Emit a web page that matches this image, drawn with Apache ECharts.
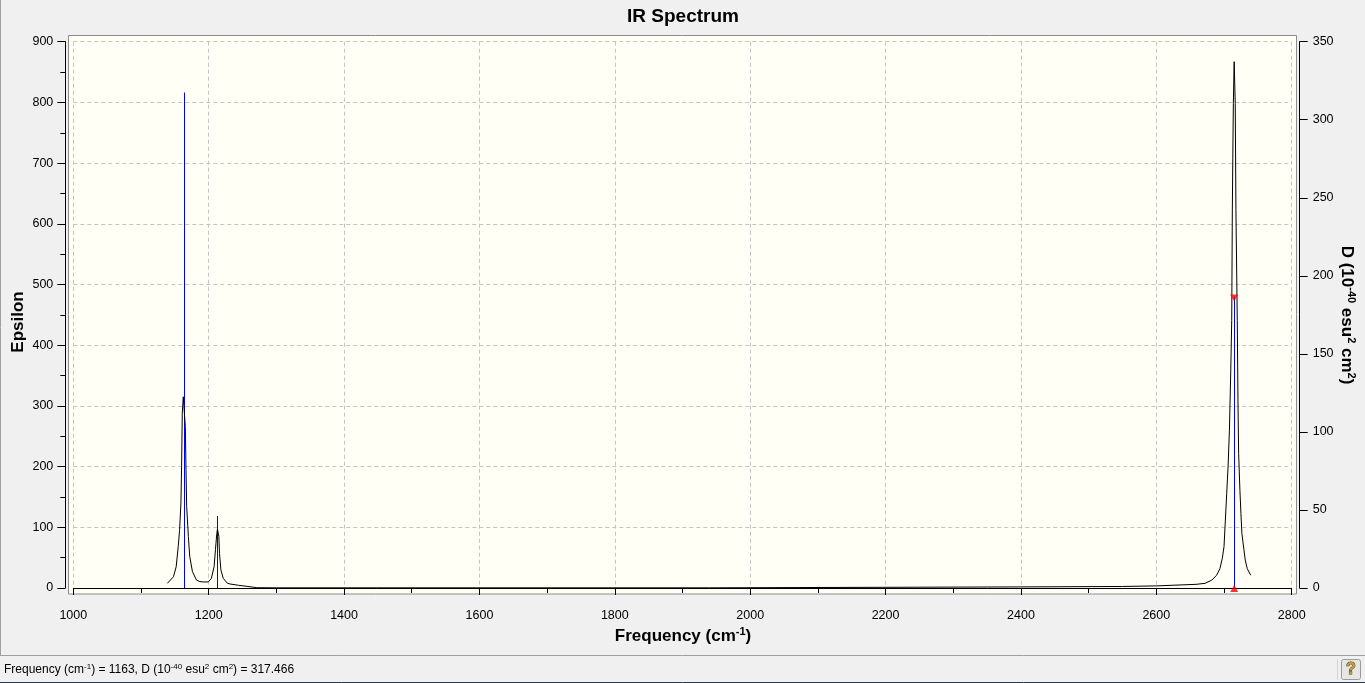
<!DOCTYPE html>
<html>
<head>
<meta charset="utf-8">
<script src="https://cdn.jsdelivr.net/npm/echarts@6/dist/echarts.min.js"></script>
<style>
html,body{margin:0;padding:0;background:#f0f0f0;}
#chart{width:1365px;height:683px;}
</style>
</head>
<body>
<div id="chart"></div>
<script>
// ---- Data ----
// Spectrum curve: frequency (cm-1) and epsilon
const freqs = [1139,1148,1152,1155,1157,1159,1160,1161,1162.5,1164,1165.5,1166.5,1167.5,1170,1172,1176,1182,1187,1192,1199.5,1204,1208,1210,1212,1213,1215,1216,1218,1221.5,1227.5,1231.5,1244,1258,1271,1300,1940,1942,2400,2550,2600,2635,2658.6,2672,2682,2689,2694,2697.5,2700,2702,2704,2706,2708,2710,2711.4,2712.3,2713,2713.8,2715,2716.6,2717.6,2719.6,2720.6,2721.6,2723.5,2725,2726.4,2729.4,2731.4,2734.3,2739.4];
const epsilon = [7.7,18.6,35,68,95,140,200,288,315,290,266,194,134,85,52,27,13,10.5,10,10,16,35,63,90,97,85,57,30,16,8,6.6,4.5,2.5,0.5,0.3,0.3,1.6,1.8,2.5,3.5,5,6,7.7,13,21,32,49,68,112,156,200,260,359,441,623,708,798,867,798,623,441,310,222,161,123,90,63,46,32,21];
// Stick spectrum: frequency (cm-1) and D (10^-40 esu^2 cm^2)
const stickFreq = [1163, 1213, 2715];
const stickD = [317.466, 46.1, 186.8];
const markedIndex = 2;
// Tick values
const xTicks = [1000,1200,1400,1600,1800,2000,2200,2400,2600,2800];
const yLeftTicks = [0,100,200,300,400,500,600,700,800,900];
const yRightTicks = [0,50,100,150,200,250,300,350];

const FONT = "'Liberation Sans', Arial, sans-serif";
const chart = echarts.init(document.getElementById('chart'), null, {renderer: 'canvas'});

const gridL = 73.3, gridT = 41.7, gridW = 1218.4, gridH = 546.3;

const splitStyle = {show: true, lineStyle: {color: '#c4c4c4', width: 1, type: [4, 3]}};
const axisBlack = {show: true, lineStyle: {color: '#000', width: 1}};
const plain = v => String(v);

const option = {
  animation: false,
  backgroundColor: '#f0f0f0',
  textStyle: {fontFamily: FONT},
  grid: {left: gridL, top: gridT, width: gridW, height: gridH, containLabel: false},
  xAxis: {
    type: 'value',
    min: xTicks[0], max: xTicks[xTicks.length - 1],
    interval: xTicks[1] - xTicks[0],
    offset: 10,
    axisLine: axisBlack,
    axisTick: {show: true, length: 7, lineStyle: {color: '#000'}},
    minorTick: {show: true, splitNumber: 2, length: 5, lineStyle: {color: '#000'}},
    axisLabel: {color: '#000', fontSize: 12.5, margin: 11, fontFamily: FONT, formatter: plain},
    splitLine: splitStyle
  },
  yAxis: [{
    type: 'value', position: 'left',
    min: yLeftTicks[0], max: yLeftTicks[yLeftTicks.length - 1],
    interval: yLeftTicks[1] - yLeftTicks[0],
    offset: 8,
    axisLine: axisBlack,
    axisTick: {show: true, length: 8, lineStyle: {color: '#000'}},
    minorTick: {show: true, splitNumber: 2, length: 5, lineStyle: {color: '#000'}},
    axisLabel: {color: '#000', fontSize: 12.5, margin: 12, fontFamily: FONT, formatter: plain},
    splitLine: splitStyle
  }, {
    type: 'value', position: 'right',
    min: yRightTicks[0], max: yRightTicks[yRightTicks.length - 1],
    interval: yRightTicks[1] - yRightTicks[0],
    offset: 8,
    axisLine: axisBlack,
    axisTick: {show: true, length: 8, lineStyle: {color: '#000'}},
    axisLabel: {color: '#000', fontSize: 12.5, margin: 13, fontFamily: FONT, formatter: plain},
    splitLine: {show: false}
  }],
  series: [{
    type: 'custom',
    xAxisIndex: 0, yAxisIndex: 1,
    data: stickFreq.map((f, i) => [f, stickD[i]]),
    renderItem: function (params, api) {
      const p0 = api.coord([api.value(0), 0]);
      const p1 = api.coord([api.value(0), api.value(1)]);
      const x = Math.round(p0[0]) + 0.5;
      return {type: 'line', shape: {x1: x, y1: p0[1], x2: x, y2: p1[1]},
              style: {stroke: '#0000ff', lineWidth: 1}};
    },
    z: 3
  }, {
    type: 'line',
    xAxisIndex: 0, yAxisIndex: 0,
    data: freqs.map((f, i) => [f, epsilon[i]]),
    showSymbol: false, symbol: 'none',
    lineStyle: {color: '#000', width: 1},
    z: 4
  }, {
    type: 'scatter',
    xAxisIndex: 0, yAxisIndex: 1,
    clip: false,
    data: [{value: [stickFreq[markedIndex], stickD[markedIndex]], symbolRotate: 180, symbolOffset: [0, 1.5]},
           {value: [stickFreq[markedIndex], 0], symbolRotate: 0, symbolOffset: [0, 0.5]}],
    symbol: 'triangle', symbolSize: [8, 7],
    itemStyle: {color: '#ff0000'},
    z: 5
  }],
  graphic: [
    // plot box
    {type: 'rect', z: -10, silent: true, shape: {x: 68.5, y: 35.5, width: 1228, height: 558.5},
     style: {fill: '#fffff5', stroke: '#8c8c8c', lineWidth: 1}},
    // window frame lines
    {type: 'line', z: -10, shape: {x1: 0.5, y1: 0, x2: 0.5, y2: 655}, style: {stroke: '#a0a0a0', lineWidth: 1}},
    {type: 'line', z: -10, shape: {x1: 0, y1: 655.5, x2: 1365, y2: 655.5}, style: {stroke: '#a0a0a0', lineWidth: 1}},
    {type: 'line', z: -10, shape: {x1: 0, y1: 682.5, x2: 1365, y2: 682.5}, style: {stroke: '#2b3a4a', lineWidth: 1}},
    {type: 'line', z: -10, shape: {x1: 1337.5, y1: 659, x2: 1337.5, y2: 680}, style: {stroke: '#d4d4d4', lineWidth: 1}},
    // help button
    {type: 'rect', z: -5, shape: {x: 1341.5, y: 659.5, width: 19, height: 20, r: 2},
     style: {fill: '#e6e6e6', stroke: '#9a9a9a', lineWidth: 1}},
    {type: 'text', z: -4, x: 1351, y: 670, style: {text: '?', font: "bold 16px " + FONT, fill: '#c9a040', stroke: '#5a4614', lineWidth: 1, align: 'center', verticalAlign: 'middle'}},
    // title
    {type: 'text', x: 683, y: 17, style: {text: 'IR Spectrum', font: "bold 19px " + FONT, fill: '#000', align: 'center', verticalAlign: 'middle'}},
    // x axis name
    {type: 'text', x: 683, y: 636, style: {
      text: '{b|Frequency (cm}{s|-1}{b|)}', align: 'center', verticalAlign: 'middle', fill: '#000',
      rich: {b: {font: "bold 17px " + FONT, lineHeight: 20, fill: '#000'},
             s: {font: "bold 11px " + FONT, lineHeight: 12, verticalAlign: 'top', fill: '#000'}}}},
    // left axis name
    {type: 'text', x: 18, y: 322, rotation: Math.PI / 2, style: {
      text: 'Epsilon', font: "bold 17px " + FONT, fill: '#000', align: 'center', verticalAlign: 'middle'}},
    // right axis name
    {type: 'text', x: 1347, y: 315, rotation: -Math.PI / 2, style: {
      text: '{b|D (10}{s|-40}{b| esu}{s|2}{b| cm}{s|2}{b|)}', align: 'center', verticalAlign: 'middle', fill: '#000',
      rich: {b: {font: "bold 17px " + FONT, lineHeight: 20, fill: '#000'},
             s: {font: "bold 11px " + FONT, lineHeight: 12, verticalAlign: 'top', fill: '#000'}}}},
    // status bar text
    {type: 'text', x: 4, y: 670, style: {
      text: '{n|Frequency (cm}{s|-1}{n|) = 1163, D (10}{s|-40}{n| esu}{s|2}{n| cm}{s|2}{n|) = 317.466}',
      align: 'left', verticalAlign: 'middle', fill: '#000',
      rich: {n: {font: "12px " + FONT, lineHeight: 15, fill: '#000'},
             s: {font: "8px " + FONT, lineHeight: 9, verticalAlign: 'top', fill: '#000'}}}}
  ]
};
chart.setOption(option);
</script>
</body>
</html>
